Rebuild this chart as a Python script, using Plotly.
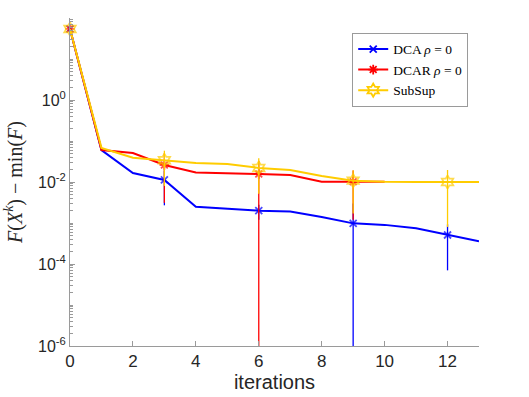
import plotly.graph_objects as go

# ---------------------------------------------------------------------------
# Data
# ---------------------------------------------------------------------------

ITERS = [0, 1, 2, 3, 4, 5, 6, 7, 8, 9, 10, 11, 12, 13]

DCA = [54, 0.06, 0.0166, 0.0112, 0.0025, 0.0022, 0.002, 0.0019,
       0.0014, 0.00098, 0.0009, 0.00074, 0.00051, 0.00036]
DCAR = [54, 0.06, 0.051, 0.026, 0.017, 0.0166, 0.0157, 0.0148,
        0.0102, 0.0101, 0.0101]
SUBSUP = [54, 0.068, 0.039, 0.034, 0.029, 0.0275, 0.022, 0.0195,
          0.014, 0.0108, 0.0101, 0.0100, 0.0100, 0.0100]

# error bar ends (low, high) at iterations 3, 6, 9, 12; 1e-6 = reaches the axis floor
ERR_ITERS = [3, 6, 9, 12]
DCA_LO = [0.0027, 0.0012, 1e-6, 7e-5]
DCA_HI = [0.019, 0.0028, 0.003, 0.00093]
DCAR_LO = [0.0031, 1e-6, 0.0012]
DCAR_HI = [0.05, 0.033, 0.019]
SUBSUP_LO = [0.008, 0.0052, 0.0017, 0.0008]
SUBSUP_HI = [0.058, 0.038, 0.0193, 0.0196]

Y_TICKS = [1e-6, 1e-4, 1e-2, 1]
Y_TICKTEXT = ["10<sup>-6</sup>", "10<sup>-4</sup>", "10<sup>-2</sup>", "10<sup>0</sup>"]

# ---------------------------------------------------------------------------
# Style
# ---------------------------------------------------------------------------

BLUE = "#0000FF"
RED = "#FF0000"
YELLOW = "#FFCC00"
AXIS = "#9a9a9a"
TEXT = "#262626"
SERIF = "Liberation Serif, Times New Roman, serif"
SANS = "Liberation Sans, Arial, sans-serif"


def _errors(vals, lo, hi):
    plus = [0.0] * len(vals)
    minus = [0.0] * len(vals)
    for k, it in enumerate(ERR_ITERS[:len(lo)]):
        plus[it] = hi[k] - vals[it]
        minus[it] = vals[it] - lo[k]
    return plus, minus


def _series(name, vals, lo, hi, color, symbol, msize):
    plus, minus = _errors(vals, lo, hi)
    sizes = [msize if i % 3 == 0 else 0 for i in range(len(vals))]
    line = go.Scatter(
        x=ITERS[:len(vals)], y=vals,
        mode="lines+markers",
        cliponaxis=False,
        showlegend=False,
        hoverinfo="skip",
        line=dict(color=color, width=2),
        marker=dict(symbol=symbol, size=sizes, color=color,
                    line=dict(color=color, width=1.8)),
        error_y=dict(type="data", symmetric=False, array=plus, arrayminus=minus,
                     color=color, thickness=1.3, width=0),
    )
    # legend entry only
    key = go.Scatter(
        x=[None], y=[None], name=name,
        mode="lines+markers",
        line=dict(color=color, width=2),
        marker=dict(symbol=symbol, size=msize, color=color,
                    line=dict(color=color, width=1.8)),
    )
    return line, key


fig = go.Figure()
for args in [
    ("DCA <i>ρ</i> = 0", DCA, DCA_LO, DCA_HI, BLUE, "x-thin", 7),
    ("DCAR <i>ρ</i> = 0", DCAR, DCAR_LO, DCAR_HI, RED, "asterisk-open", 8),
    ("SubSup", SUBSUP, SUBSUP_LO, SUBSUP_HI, YELLOW, "hexagram-open", 10),
]:
    for tr in _series(*args):
        fig.add_trace(tr)

fig.update_layout(
    width=529, height=397,
    paper_bgcolor="white", plot_bgcolor="white",
    margin=dict(l=70, r=50, t=18, b=51, autoexpand=False),
    font=dict(family=SANS, color=TEXT, size=16),
    showlegend=True,
    legend=dict(
        x=0.69, y=0.955, xanchor="left", yanchor="top",
        bgcolor="white", bordercolor=AXIS, borderwidth=1,
        font=dict(family=SERIF, size=13.5, color="black"),
        itemwidth=30, tracegroupgap=0,
    ),
    xaxis=dict(
        range=[0, 13], dtick=2, tick0=0, automargin=False,
        showgrid=False, zeroline=False,
        showline=True, linecolor=AXIS, linewidth=1,
        ticks="inside", ticklen=5, tickcolor=AXIS,
        tickfont=dict(size=17, color=TEXT),
        title=dict(text="iterations", font=dict(size=20, color=TEXT), standoff=4),
    ),
    yaxis=dict(
        type="log", range=[-6, 2], automargin=False,
        tickvals=Y_TICKS, ticktext=Y_TICKTEXT,
        showgrid=False, zeroline=False,
        showline=True, linecolor=AXIS, linewidth=1,
        ticks="inside", ticklen=5, tickcolor=AXIS,
        tickfont=dict(size=16, color=TEXT),
        minor=dict(ticks="inside", ticklen=3, tickcolor=AXIS, dtick="D1", showgrid=False),
        title=dict(text="<i>F</i>(<i>X</i><sup><i>k</i></sup>) − min(<i>F</i>)",
                   font=dict(family=SERIF, size=20, color=TEXT), standoff=10),
    ),
)

fig.write_html("out.html", config={"displayModeBar": False},
               post_script="document.body.style.margin='0';")
